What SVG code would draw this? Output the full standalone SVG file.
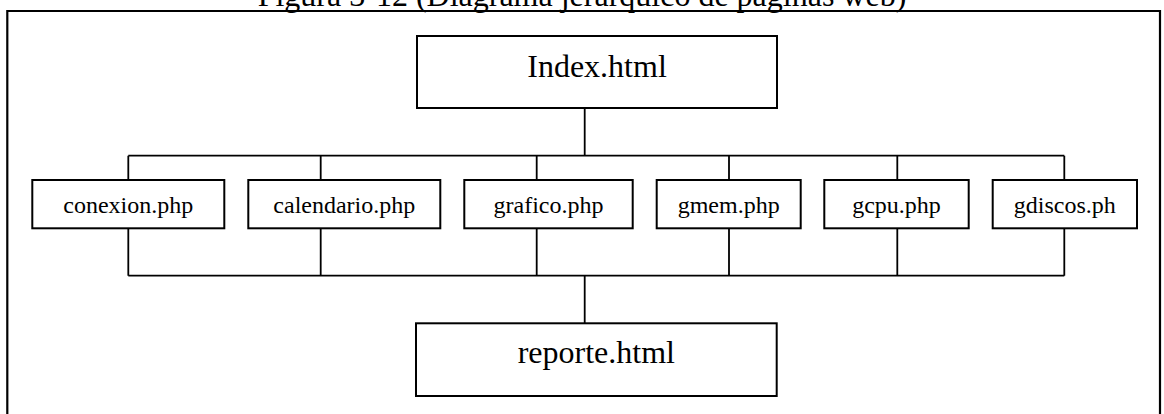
<svg xmlns="http://www.w3.org/2000/svg" width="1164" height="414" viewBox="0 0 1164 414">
<style>
  text { font-family: "Liberation Serif", "Times New Roman", serif; fill: #000; text-anchor: middle; }
  .box { fill: #fff; stroke: #000; stroke-width: 2; }
  .big { font-size: 32px; }
  .small { font-size: 24px; }
  .conn { fill: none; stroke: #000; stroke-width: 1.8; }
  .frame { fill: none; stroke: #000; stroke-width: 2.2; }
</style>
<rect width="1164" height="414" fill="#fff"/>
<text id="title" class="big" x="582" y="6">Figura 3-12 (Diagrama jerárquico de páginas web)</text>
<path class="frame" d="M7.3,420 V11 H1160 V420"/>
<g id="connectors">
  <path class="conn" d="M584.7,107.7 V155.7"/>
  <path class="conn" d="M128.3,155.7 H1064.3"/>
  <path class="conn" d="M128.3,155.7 V180 M320.7,155.7 V180 M536.7,155.7 V180 M729,155.7 V180 M897.3,155.7 V180 M1064.3,155.7 V180"/>
  <path class="conn" d="M128.3,228.3 V275.7 M320.7,228.3 V275.7 M536.7,228.3 V275.7 M729,228.3 V275.7 M897.3,228.3 V275.7 M1064.3,228.3 V275.7"/>
  <path class="conn" d="M128.3,275.7 H1064.3"/>
  <path class="conn" d="M584.7,275.7 V323.3"/>
</g>
<g id="index">
  <rect class="box" x="417" y="36" width="360" height="72"/>
  <text class="big" x="597" y="77.3">Index.html</text>
</g>
<g id="conexion">
  <rect class="box" x="32.3" y="180" width="192" height="48.3"/>
  <text class="small" x="128.3" y="212.7">conexion.php</text>
</g>
<g id="calendario">
  <rect class="box" x="248.3" y="180" width="192" height="48.3"/>
  <text class="small" x="344.3" y="212.7">calendario.php</text>
</g>
<g id="grafico">
  <rect class="box" x="464.3" y="180" width="168.4" height="48.3"/>
  <text class="small" x="548.5" y="212.7">grafico.php</text>
</g>
<g id="gmem">
  <rect class="box" x="656.7" y="180" width="144" height="48.3"/>
  <text class="small" x="728.7" y="212.7">gmem.php</text>
</g>
<g id="gcpu">
  <rect class="box" x="824.3" y="180" width="144.4" height="48.3"/>
  <text class="small" x="896.5" y="212.7">gcpu.php</text>
</g>
<g id="gdiscos">
  <rect class="box" x="992.7" y="180" width="144.3" height="48.3"/>
  <text class="small" x="1064.8" y="212.7">gdiscos.ph</text>
</g>
<g id="reporte">
  <rect class="box" x="416" y="323.3" width="360.7" height="72.7"/>
  <text class="big" x="596.3" y="363.3">reporte.html</text>
</g>
</svg>
